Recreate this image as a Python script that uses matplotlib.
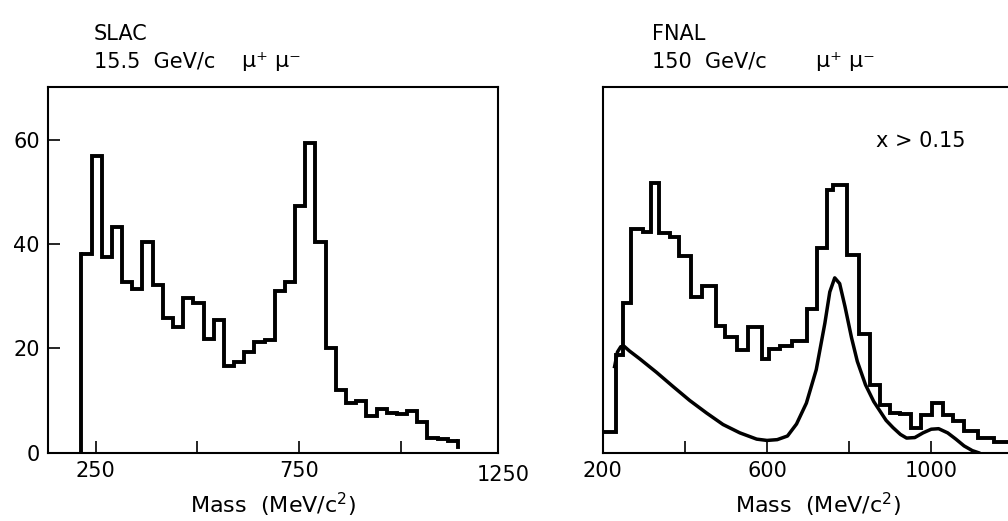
import numpy as np
import matplotlib.pyplot as plt

# SLAC 15.5 GeV/c, mu+ mu- : bin edges (MeV/c^2) and counts
slac_edges = [215, 240, 265, 290, 315, 340, 365, 390, 415, 440, 465, 490, 515,
              540, 565, 590, 615, 640, 665, 690, 715, 740, 765, 790, 815, 840,
              865, 890, 915, 940, 965, 990, 1015, 1040, 1065, 1090, 1115, 1140]
slac_counts = [38.1, 56.8, 37.5, 43.3, 32.7, 31.3, 40.4, 32.2, 25.8, 24.0,
               29.7, 28.7, 21.7, 25.4, 16.7, 17.3, 19.2, 21.2, 21.6, 31.0,
               32.7, 47.2, 59.4, 40.3, 20.0, 12.1, 9.5, 10.0, 7.0, 8.3,
               7.7, 7.5, 8.0, 5.9, 2.9, 2.7, 2.3]
slac_end_level = 1.0

# FNAL 150 GeV/c, mu+ mu- (x > 0.15), same vertical units as the left panel
fnal_edges = [200, 232, 249, 269, 297, 317, 338, 365, 387, 414, 443, 475, 497,
              527, 553, 587, 605, 631, 660, 698, 722, 745, 761, 796, 823, 852,
              876, 899, 925, 950, 976, 1001, 1029, 1053, 1080, 1115, 1153, 1190]
fnal_counts = [3.9, 18.7, 28.6, 42.9, 42.3, 51.7, 42.0, 41.3, 37.6, 29.8,
               32.0, 24.2, 22.2, 19.6, 24.0, 18.0, 19.8, 20.5, 21.4, 27.5,
               39.3, 50.3, 51.2, 37.9, 22.8, 12.9, 9.2, 7.6, 7.5, 4.7,
               7.3, 9.5, 7.3, 6.0, 4.1, 2.9, 2.0]

# smooth curve drawn over the FNAL histogram
curve_mass = [229, 236, 244, 252, 265, 290, 331, 371, 412, 453, 493, 534, 575,
              600, 625, 650, 672, 696, 720, 741, 753, 765, 777, 790, 806, 820,
              840, 860, 875, 890, 907, 925, 940, 960, 980, 1000, 1018, 1040,
              1060, 1080, 1100, 1115]
curve_vals = [16.5, 19.3, 20.3, 20.4, 19.5, 18.0, 15.4, 12.7, 10.0, 7.6, 5.4,
              3.8, 2.6, 2.35, 2.5, 3.2, 5.5, 9.5, 15.9, 24.8, 30.8, 33.5, 32.4,
              28.0, 22.0, 17.5, 13.0, 9.8, 8.0, 6.2, 4.8, 3.5, 2.8, 2.9, 3.8,
              4.5, 4.6, 3.8, 2.6, 1.3, 0.4, 0.0]

slac_ticks = [250, 500, 750, 1000]
slac_labels = ["250", "", "750", ""]
fnal_ticks = [200, 400, 600, 800, 1000, 1200]
fnal_labels = ["200", "", "600", "", "1000", ""]
y_ticks = [0, 20, 40, 60]

plt.rcParams['font.family'] = 'DejaVu Sans'
fs = 15
lw_hist = 2.8

fig = plt.figure(figsize=(10.08, 5.21), dpi=100)
ax1 = fig.add_axes([0.0476, 0.1311, 0.4467, 0.7013])
ax2 = fig.add_axes([0.5979, 0.1311, 0.4278, 0.7013])

for ax in (ax1, ax2):
    for s in ax.spines.values():
        s.set_linewidth(1.5)
    ax.tick_params(direction='in', length=8.5, width=1.2, labelsize=fs, pad=6)
    ax.set_ylim(0, 70)
    ax.set_xlabel("Mass  (MeV/c$^2$)", fontsize=fs + 1, labelpad=7)

# left panel
ax1.stairs(slac_counts, slac_edges, baseline=None, color='black', lw=lw_hist)
ax1.plot([slac_edges[0]] * 2, [0, slac_counts[0]], color='black', lw=lw_hist)
ax1.plot([slac_edges[-1]] * 2, [slac_counts[-1], slac_end_level], color='black', lw=lw_hist)
ax1.set_xlim(133, 1239)
ax1.set_xticks(slac_ticks, slac_labels)
ax1.set_yticks(y_ticks)
ax1.annotate("1250", xy=(1250, 0), xycoords=('data', 'axes fraction'),
             xytext=(0, -8.5), textcoords='offset points', ha='center', va='top',
             fontsize=fs, annotation_clip=False)

# right panel
ax2.stairs(fnal_counts, fnal_edges, baseline=None, color='black', lw=lw_hist)
ax2.plot(curve_mass, curve_vals, color='black', lw=2.5)
ax2.set_xlim(200, 1250)
ax2.set_xticks(fnal_ticks, fnal_labels)
ax2.set_yticks([])
ax2.spines['right'].set_visible(False)
ax2.text(0.634, 0.838, "x > 0.15", transform=ax2.transAxes, fontsize=fs,
         va='baseline')

fig.text(0.093, 0.935, "SLAC", fontsize=fs, va='center')
fig.text(0.093, 0.882, "15.5  GeV/c", fontsize=fs, va='center')
fig.text(0.240, 0.882, "μ⁺ μ⁻", fontsize=fs + 1, va='center')
fig.text(0.647, 0.935, "FNAL", fontsize=fs, va='center')
fig.text(0.647, 0.882, "150  GeV/c", fontsize=fs, va='center')
fig.text(0.810, 0.882, "μ⁺ μ⁻", fontsize=fs + 1, va='center')

fig.savefig("out.png", dpi=100)
